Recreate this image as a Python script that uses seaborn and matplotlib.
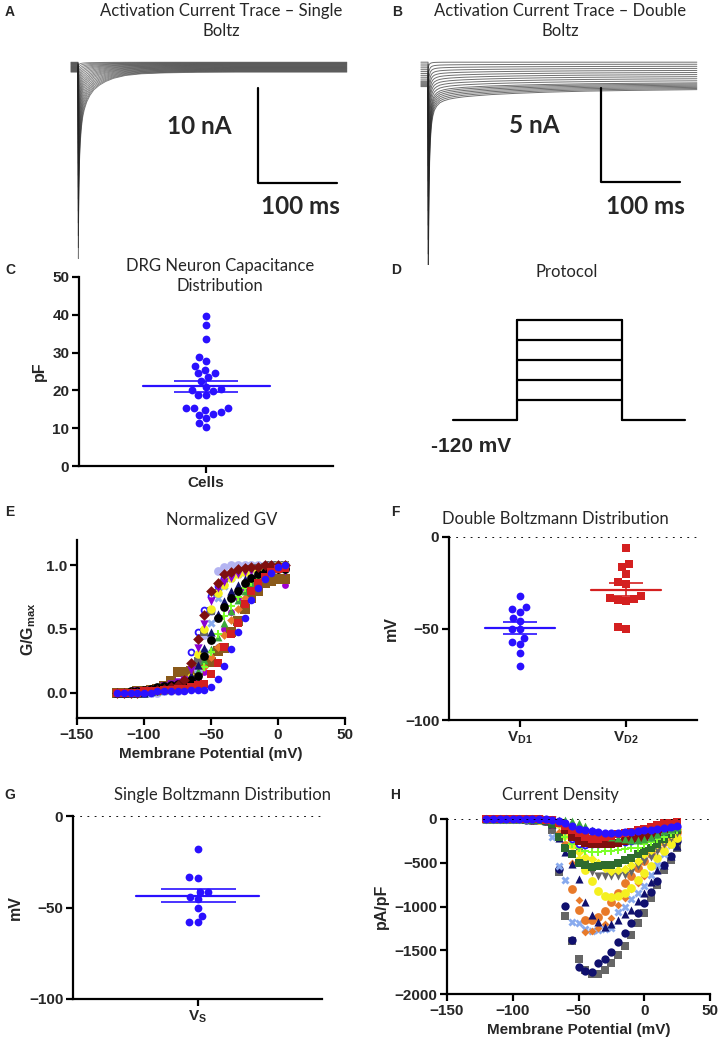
import numpy as np
import pandas as pd
import seaborn as sns
import matplotlib.pyplot as plt

# ---------------- data ----------------
# A / B: current traces (time in ms, current in nA)
trace_t = [-9, 0, 0.4, 0.8, 1.2, 2, 3, 4.5, 6, 8, 11, 15, 20, 27, 35, 45, 60, 80, 110, 150, 200, 260, 340]
fast_a = [0, 0, 1.0, 0.78, 0.62, 0.47, 0.37, 0.29, 0.24, 0.20, 0.16, 0.125, 0.095, 0.07, 0.05, 0.033, 0.018, 0.009, 0.004, 0.001, 0, 0, 0]
fast_b = [0, 0, 1.0, 0.7, 0.5, 0.32, 0.2, 0.12, 0.08, 0.05, 0.03, 0.015, 0.008, 0.003, 0.001, 0, 0, 0, 0, 0, 0, 0, 0]
slow_b = [0, 0, 0.3, 0.6, 0.85, 1.0, 1.0, 0.98, 0.96, 0.94, 0.91, 0.88, 0.84, 0.79, 0.74, 0.68, 0.61, 0.53, 0.45, 0.37, 0.30, 0.25, 0.20]

peak_a = [-0.4, -0.8, -1.3, -1.8, -2.4, -3.0, -3.7, -4.5, -5.3, -6.2, -7.1, -8.0, -9.0, -10.0, -11.2, -12.4, -13.6, -14.8, -16.0, -17.3, -18.5, -19.6]
base_a = [0.3, 0.25, 0.2, 0.15, 0.1, 0.05, 0.0, -0.05, -0.1, -0.15, -0.2, -0.25, -0.3, -0.35, -0.4, -0.45, -0.5, -0.55, -0.6, -0.65, -0.7, -0.75]

peak_b = [-0.3, -0.7, -1.1, -1.6, -2.1, -2.7, -3.3, -3.9, -4.6, -5.3, -6.0, -6.7, -7.4, -8.1, -8.8, -9.5, -10.2]
slow_amp_b = [0.0, -0.05, -0.1, -0.15, -0.2, -0.25, -0.3, -0.35, -0.4, -0.45, -0.5, -0.55, -0.6, -0.65, -0.7, -0.75, -0.8]
base_b = [0.15, 0.05, -0.05, -0.15, -0.25, -0.35, -0.45, -0.55, -0.65, -0.75, -0.85, -0.9, -0.95, -1.0, -1.05, -1.1, -1.15]

# C: capacitance (pF)
cap_pf = [39.6, 37.4, 33.7, 28.8, 27.9, 24.5, 24.7, 26.4, 25.4, 23.5, 22.6, 19.9, 20.2, 20.5,
          21.0, 18.8, 18.8, 14.3, 15.3, 15.3, 15.3, 14.8, 13.8, 13.6, 12.6, 11.4, 10.4]

# D: protocol (mV)
hold_mv = -120
step_mv = [-100, -80, -60, -40, -20]
protocol_t = [0, 64, 169, 232]

# E: normalized GV
v_gv = [-120, -115, -110, -105, -100, -95, -90, -85, -80, -75, -70, -65, -60,
        -55, -50, -45, -40, -35, -30, -25, -20, -15, -10, -5, 0, 5]
gv_violet = [0.00, 0.00, 0.00, 0.00, 0.00, 0.01, 0.01, 0.02, 0.03, 0.04, 0.05, 0.07, 0.10, 0.16, 0.24, 0.36, 0.50, 0.63, 0.74, 0.82, 0.88, 0.92, 0.94, 0.93, 0.90, 0.85]
gv_brown = [0.00, 0.00, 0.00, 0.01, 0.01, 0.02, 0.03, 0.05, 0.09, 0.16, 0.16, 0.17, 0.18, 0.25, 0.24, 0.33, 0.35, 0.48, 0.56, 0.66, 0.74, 0.80, 0.86, 0.88, 0.89, 0.89]
gv_lavender = [0.00, 0.00, 0.00, 0.00, 0.00, 0.00, 0.00, 0.01, 0.01, 0.01, 0.02, 0.05, 0.18, 0.45, 0.64, 0.96, 0.99, 1.00, 1.00, 1.00, 1.00, 1.00, 1.00, 1.00, 1.00, 1.00]
gv_grey = [0.00, 0.00, 0.00, 0.00, 0.00, 0.01, 0.01, 0.02, 0.03, 0.04, 0.06, 0.10, 0.25, 0.48, 0.64, 0.78, 0.86, 0.91, 0.94, 0.96, 0.97, 0.98, 0.99, 1.00, 1.00, 1.00]
gv_lightblue = [0.00, 0.00, 0.00, 0.00, 0.00, 0.00, 0.01, 0.01, 0.02, 0.03, 0.04, 0.07, 0.15, 0.32, 0.55, 0.74, 0.84, 0.90, 0.93, 0.95, 0.97, 0.98, 0.99, 1.00, 1.00, 1.00]
gv_orange = [0.00, 0.00, 0.00, 0.00, 0.00, 0.01, 0.01, 0.02, 0.03, 0.04, 0.06, 0.09, 0.13, 0.20, 0.28, 0.36, 0.45, 0.57, 0.66, 0.74, 0.82, 0.88, 0.92, 0.95, 0.97, 0.98]
gv_green = [0.00, 0.00, 0.00, 0.00, 0.00, 0.01, 0.01, 0.02, 0.03, 0.05, 0.08, 0.12, 0.17, 0.26, 0.34, 0.44, 0.55, 0.64, 0.73, 0.80, 0.86, 0.90, 0.93, 0.96, 0.98, 0.99]
gv_lime = [0.00, 0.00, 0.00, 0.00, 0.00, 0.00, 0.01, 0.01, 0.02, 0.03, 0.05, 0.08, 0.12, 0.20, 0.32, 0.46, 0.60, 0.68, 0.75, 0.82, 0.87, 0.90, 0.94, 0.96, 0.98, 0.99]
gv_yellow = [0.00, 0.00, 0.00, 0.00, 0.01, 0.01, 0.02, 0.03, 0.04, 0.05, 0.07, 0.12, 0.30, 0.50, 0.66, 0.78, 0.85, 0.90, 0.93, 0.95, 0.97, 0.98, 0.98, 0.99, 1.00, 1.00]
gv_navy = [0.00, 0.00, 0.00, 0.00, 0.00, 0.01, 0.02, 0.03, 0.05, 0.07, 0.09, 0.14, 0.22, 0.35, 0.48, 0.62, 0.72, 0.80, 0.85, 0.89, 0.92, 0.95, 0.97, 0.98, 0.99, 1.00]
gv_purple = [0.00, 0.00, 0.00, 0.01, 0.01, 0.02, 0.03, 0.05, 0.07, 0.08, 0.10, 0.18, 0.35, 0.54, 0.72, 0.82, 0.87, 0.90, 0.93, 0.95, 0.96, 0.97, 0.98, 0.98, 0.97, 0.96]
gv_black = [0.00, 0.00, 0.01, 0.01, 0.02, 0.03, 0.04, 0.05, 0.06, 0.07, 0.08, 0.10, 0.13, 0.29, 0.41, 0.59, 0.67, 0.74, 0.80, 0.86, 0.90, 0.93, 0.95, 0.96, 0.97, 0.97]
gv_openblue = [0.00, 0.00, 0.00, 0.00, 0.00, 0.01, 0.01, 0.02, 0.03, 0.05, 0.10, 0.32, 0.48, 0.65, 0.76, 0.84, 0.90, 0.93, 0.95, 0.97, 0.98, 0.99, 0.99, 1.00, 1.00, 1.00]
gv_darkred = [0.00, 0.00, 0.00, 0.00, 0.01, 0.01, 0.02, 0.03, 0.04, 0.06, 0.10, 0.23, 0.42, 0.61, 0.80, 0.86, 0.93, 0.95, 0.97, 0.98, 0.99, 0.99, 1.00, 1.00, 1.00, 1.00]
gv_red = [0.00, 0.00, 0.00, 0.00, 0.01, 0.01, 0.01, 0.02, 0.02, 0.03, 0.03, 0.04, 0.06, 0.07, 0.15, 0.23, 0.36, 0.46, 0.55, 0.70, 0.80, 0.86, 0.91, 0.95, 0.97, 0.98]
gv_blue = [0.00, 0.00, 0.00, 0.00, 0.00, 0.00, 0.01, 0.01, 0.01, 0.01, 0.01, 0.02, 0.02, 0.02, 0.04, 0.11, 0.21, 0.34, 0.48, 0.59, 0.73, 0.82, 0.89, 0.94, 0.99, 1.00]

# F / G: Boltzmann V1/2 (mV)
v_d1 = [-32.4, -41.1, -39.5, -38.4, -46.0, -44.0, -50.0, -50.4, -55.1, -57.5, -58.7, -63.3, -70.4]
v_d2 = [-6.2, -14.5, -16.5, -20.2, -24.4, -25.5, -32.4, -34.5, -33.8, -35.1, -33.1, -50.5, -49.3]
v_s = [-18.0, -33.5, -33.8, -41.3, -41.5, -45.6, -44.2, -50.4, -54.5, -58.0, -58.0]

# H: current density (pA/pF)
v_iv = [-120, -115, -110, -105, -100, -95, -90, -85, -80, -75, -70, -65, -60, -55, -50,
        -45, -40, -35, -30, -25, -20, -15, -10, -5, 0, 5, 10, 15, 20, 25]
iv_grey = [0, 0, -1, -2, -3, -4, -6, -9, -14, -22, -120, -600, -1107, -1393, -1603, -1725, -1775, -1775, -1725, -1649, -1553, -1447, -1324, -1191, -1069, -905, -752, -580, -466, -332]
iv_navy = [0, 0, -1, -2, -3, -4, -6, -9, -13, -20, -35, -570, -992, -1380, -1687, -1740, -1750, -1640, -1600, -1515, -1400, -1305, -1183, -1069, -962, -836, -714, -523, -427, -256]
iv_lightblue = [0, 0, 0, -1, -2, -3, -5, -8, -12, -20, -200, -540, -693, -1177, -1183, -1256, -1280, -1270, -1260, -1250, -1065, -1000, -915, -840, -760, -640, -530, -400, -300, -200]
iv_orange_dia = [0, 0, 0, -1, -1, -2, -4, -6, -10, -18, -40, -150, -300, -500, -920, -1290, -1280, -1240, -1200, -1130, -980, -900, -800, -730, -650, -540, -440, -340, -260, -200]
iv_orange = [0, 0, -1, -1, -2, -3, -5, -8, -12, -20, -60, -200, -294, -800, -1038, -1153, -1150, -1115, -1057, -943, -847, -733, -650, -560, -480, -400, -330, -260, -200, -150]
iv_navy_tri = [0, 0, 0, -1, -2, -3, -5, -8, -12, -25, -60, -220, -374, -510, -690, -950, -1100, -1180, -1230, -1200, -1150, -1090, -1040, -940, -840, -720, -580, -520, -420, -310]
iv_yellow = [0, 0, 0, -1, -1, -2, -3, -5, -8, -12, -20, -60, -180, -300, -470, -584, -706, -828, -885, -897, -885, -847, -790, -695, -618, -540, -450, -360, -290, -220]
iv_grey_tri = [0, 0, 0, 0, -1, -1, -2, -3, -5, -8, -15, -40, -90, -200, -380, -500, -600, -656, -650, -655, -650, -635, -600, -540, -485, -430, -360, -290, -220, -160]
iv_yellow_dia = [0, 0, 0, 0, -1, -1, -2, -3, -5, -8, -15, -40, -100, -250, -380, -430, -460, -500, -560, -590, -580, -573, -525, -477, -400, -350, -290, -230, -170, -110]
iv_darkgreen = [0, 0, 0, -1, -2, -3, -5, -8, -12, -20, -60, -200, -330, -400, -500, -530, -545, -540, -530, -520, -500, -470, -440, -400, -360, -330, -290, -230, -170, -120]
iv_lime = [0, 0, 0, 0, -1, -1, -2, -3, -5, -8, -15, -40, -200, -290, -337, -360, -375, -375, -370, -365, -355, -345, -335, -330, -290, -260, -230, -200, -160, -120]
iv_openblue = [0, 0, 0, 0, -1, -1, -2, -3, -5, -8, -15, -40, -120, -230, -290, -300, -290, -280, -275, -270, -265, -260, -250, -240, -220, -200, -170, -140, -110, -90]
iv_darkred = [0, 0, 0, 0, -1, -1, -2, -3, -5, -8, -15, -40, -120, -200, -250, -270, -285, -290, -285, -280, -270, -255, -240, -220, -200, -180, -150, -110, -80, -50]
iv_green = [0, 0, 0, 0, 0, -1, -1, -2, -3, -5, -8, -10, -15, -20, -40, -80, -120, -150, -180, -200, -220, -230, -240, -240, -230, -200, -170, -140, -110, -90]
iv_red = [0, 0, 0, 0, -1, -1, -2, -3, -5, -8, -15, -40, -80, -130, -160, -210, -230, -230, -210, -190, -170, -160, -150, -130, -110, -90, -70, -50, -40, -35]
iv_blue = [0, 0, 0, 0, 0, -1, -1, -2, -3, -5, -8, -20, -50, -80, -110, -120, -140, -150, -155, -155, -155, -150, -145, -140, -130, -120, -110, -100, -90, -80]

# ---------------- styles ----------------
BLUE = '#2a10ff'
RED = '#d42020'
OPEN = 'open'
gv_style = [
    (gv_openblue, BLUE, OPEN, 18),
    (gv_violet, '#a000d0', 'o', 24), (gv_brown, '#8a5a1a', 's', 44),
    (gv_lavender, '#b4b4f2', 'o', 40), (gv_grey, '#666666', 's', 38),
    (gv_lightblue, '#88aaee', 'X', 36), (gv_orange, '#e87a2a', 'D', 20),
    (gv_green, '#3aa83a', '^', 32), (gv_lime, '#7dff2a', 'P', 32),
    (gv_yellow, '#f5f020', 'o', 38), (gv_navy, '#10106e', '^', 36),
    (gv_purple, '#8a00d4', 'v', 36), (gv_black, '#000000', 'o', 40),
    (gv_darkred, '#7f0f0f', 'D', 30), (gv_red, RED, 's', 36), (gv_blue, BLUE, 'o', 30),
]
iv_style = [
    (iv_grey, '#666666', 's', 34), (iv_navy, '#10106e', 'o', 36),
    (iv_lightblue, '#88aaee', 'X', 34), (iv_orange_dia, '#e87a2a', 'D', 16),
    (iv_orange, '#e87a2a', 'o', 40), (iv_navy_tri, '#10106e', '^', 34),
    (iv_yellow, '#f5f020', 'o', 40), (iv_grey_tri, '#666666', 'v', 34),
    (iv_yellow_dia, '#f5f020', 'D', 24), (iv_darkgreen, '#2e6b2e', 's', 34),
    (iv_lime, '#7dff2a', 'P', 34), (iv_openblue, BLUE, OPEN, 18),
    (iv_darkred, '#7f0f0f', 's', 34), (iv_green, '#3aa83a', '^', 32),
    (iv_red, RED, 's', 34), (iv_blue, BLUE, 'o', 34),
]

W, H = 723, 1041


def px_rect(x0, y0, x1, y1):
    return [x0 / W, 1 - y1 / H, (x1 - x0) / W, (y1 - y0) / H]


def fig_text(x, y, s, **kw):
    fig.text(x / W, 1 - y / H, s, **kw)


sns.set_style('ticks')
plt.rcParams['font.family'] = ['Liberation Sans', 'DejaVu Sans']
plt.rcParams.update({
    'font.weight': 'bold', 'axes.labelweight': 'bold',
    'mathtext.fontset': 'custom', 'mathtext.rm': 'Liberation Sans',
    'mathtext.bf': 'Liberation Sans:bold', 'mathtext.it': 'Liberation Sans:italic',
})

TITLE = dict(family=['Lato', 'DejaVu Sans'], fontweight='normal', fontsize=12, ha='center', va='center')
SCALE = dict(family=['Lato', 'DejaVu Sans'], fontweight='bold', fontsize=17.5, ha='center', va='center')


def prism(ax):
    sns.despine(ax=ax)
    for s in ['left', 'bottom']:
        ax.spines[s].set_linewidth(1.6)
        ax.spines[s].set_color('black')
    ax.tick_params(width=1.6, length=5, labelsize=11, pad=2, color='black')
    ax.xaxis.label.set_size(11)
    ax.yaxis.label.set_size(11.5)


def scatter_series(ax, x, style, clip=True):
    for vals, c, mk, sz in style:
        if mk == OPEN:
            sns.scatterplot(x=x, y=vals, color='white', edgecolor=c, marker='o', s=sz,
                            linewidth=1.3, ax=ax, legend=False, clip_on=clip)
        else:
            sns.scatterplot(x=x, y=vals, color=c, marker=mk, s=sz, linewidth=0,
                            ax=ax, legend=False, clip_on=clip)


fig = plt.figure(figsize=(W / 100, H / 100), dpi=100)

# ---- A ----
ax = fig.add_axes(px_rect(60, 40, 350, 262))
fa, tt = np.array(fast_a), np.array(trace_t)
for p, b in zip(peak_a, base_a):
    ax.plot(tt, b + p * fa, color='#222222', lw=0.6, alpha=0.6)
ax.plot([228, 228, 328], [-2.4, -12.4, -12.4], color='black', lw=1.6)
ax.text(154, -6.5, '10 nA', **SCALE)
ax.text(281, -14.9, '100 ms', **SCALE)
ax.set_xlim(-22.8, 344)
ax.set_ylim(-20.7, 2.63)
ax.axis('off')

# ---- B ----
ax = fig.add_axes(px_rect(410, 40, 700, 265))
fb, sb = np.array(fast_b), np.array(slow_b)
for p, s, b in zip(peak_b, slow_amp_b, base_b):
    ax.plot(tt, b + p * fb + s * sb, color='#222222', lw=0.7, alpha=0.65)
ax.plot([219, 219, 319], [-1.22, -6.22, -6.22], color='black', lw=1.6)
ax.text(135, -3.2, '5 nA', **SCALE)
ax.text(275, -7.55, '100 ms', **SCALE)
ax.set_xlim(-22.8, 344)
ax.set_ylim(-10.64, 1.33)
ax.axis('off')

# ---- C ----
ax = fig.add_axes(px_rect(79, 277, 333, 466))
sns.swarmplot(y=cap_pf, color=BLUE, size=5.6, ax=ax, linewidth=0)
m = np.mean(cap_pf)
sem = np.std(cap_pf, ddof=1) / np.sqrt(len(cap_pf))
ax.plot([-0.5, 0.5], [m, m], color=BLUE, lw=1.6)
ax.errorbar(0, m, yerr=sem, color=BLUE, lw=1.2, capsize=23, capthick=1.2)
ax.set_xlim(-1, 1)
ax.set_ylim(0, 50)
ax.set_xticks([0], labels=['Cells'], fontsize=11)
ax.set_yticks([0, 10, 20, 30, 40, 50])
ax.set_ylabel('pF')
prism(ax)

# ---- D ----
ax = fig.add_axes(px_rect(440, 300, 700, 460))
t0, t1, t2, t3 = protocol_t
ax.plot([t0, t1], [hold_mv, hold_mv], color='black', lw=1.6)
ax.plot([t2, t3], [hold_mv, hold_mv], color='black', lw=1.6)
ax.plot([t1, t1], [hold_mv, max(step_mv)], color='black', lw=1.6)
ax.plot([t2, t2], [hold_mv, max(step_mv)], color='black', lw=1.6)
for v in step_mv:
    ax.plot([t1, t2], [v, v], color='black', lw=1.6)
ax.text(18, -147, f'{hold_mv} mV', ha='center', va='center', fontsize=15, fontweight='bold')
ax.set_xlim(-13, 247)
ax.set_ylim(-160, 0)
ax.axis('off')

# ---- E ----
ax = fig.add_axes(px_rect(77, 540, 345, 718))
scatter_series(ax, v_gv, gv_style)
ax.set_xlim(-150, 50)
ax.set_ylim(-0.2, 1.2)
ax.set_xticks([-150, -100, -50, 0, 50])
ax.set_yticks([0, 0.5, 1.0], labels=['0.0', '0.5', '1.0'])
ax.set_xlabel('Membrane Potential (mV)')
ax.set_ylabel(r'$\mathbf{G/G_{max}}$', fontsize=12.5, labelpad=6)
prism(ax)

# ---- F ----
ax = fig.add_axes(px_rect(449, 537, 697, 720))
order = ['VD1', 'VD2']
sns.swarmplot(x=['VD1'] * len(v_d1), y=v_d1, order=order, color=BLUE, size=5.6, ax=ax, linewidth=0)
sns.swarmplot(x=['VD2'] * len(v_d2), y=v_d2, order=order, color=RED, marker='s', size=5.6, ax=ax, linewidth=0)
for i, (vals, c) in enumerate([(v_d1, BLUE), (v_d2, RED)]):
    m = np.mean(vals)
    sem = np.std(vals, ddof=1) / np.sqrt(len(vals))
    ax.plot([i - 0.33, i + 0.33], [m, m], color=c, lw=1.6)
    ax.errorbar(i, m, yerr=sem, color=c, lw=1.2, capsize=12, capthick=1.2)
ax.axhline(0, color='black', lw=1.3, ls=(0, (1, 3)))
ax.set_xlim(-0.67, 1.67)
ax.set_ylim(-100, 0)
ax.set_xticks([0, 1], labels=[r'$\mathbf{V_{D1}}$', r'$\mathbf{V_{D2}}$'], fontsize=12)
ax.set_yticks([-100, -50, 0])
ax.set_ylabel('mV')
prism(ax)

# ---- G ----
ax = fig.add_axes(px_rect(73, 816, 322, 999))
sns.swarmplot(y=v_s, color=BLUE, size=5.6, ax=ax, linewidth=0)
m = np.mean(v_s)
sem = np.std(v_s, ddof=1) / np.sqrt(len(v_s))
ax.plot([-0.49, 0.49], [m, m], color=BLUE, lw=1.6)
ax.errorbar(0, m, yerr=sem, color=BLUE, lw=1.2, capsize=27, capthick=1.2)
ax.axhline(0, color='black', lw=1.3, ls=(0, (1, 3)))
ax.set_xlim(-1, 1)
ax.set_ylim(-100, 0)
ax.set_xticks([0], labels=[r'$\mathbf{V}_\mathrm{S}$'], fontsize=12)
ax.set_yticks([-100, -50, 0])
ax.set_ylabel('mV')
prism(ax)

# ---- H ----
ax = fig.add_axes(px_rect(447, 819, 710, 994))
ax.axhline(0, color='black', lw=1.3, ls=(0, (1, 3)))
scatter_series(ax, v_iv, iv_style, clip=False)
ax.set_xlim(-150, 50)
ax.set_ylim(-2000, 0)
ax.set_xticks([-150, -100, -50, 0, 50])
ax.set_yticks([-2000, -1500, -1000, -500, 0])
ax.set_xlabel('Membrane Potential (mV)')
ax.set_ylabel('pA/pF')
prism(ax)

# ---- titles and panel letters ----
fig_text(221, 21, 'Activation Current Trace \u2013 Single\nBoltz', linespacing=1.35, **TITLE)
fig_text(560, 21, 'Activation Current Trace \u2013 Double\nBoltz', linespacing=1.35, **TITLE)
fig_text(220, 276, 'DRG Neuron Capacitance\nDistribution', linespacing=1.35, **TITLE)
fig_text(567, 272, 'Protocol', **TITLE)
fig_text(222, 520, 'Normalized GV', **TITLE)
fig_text(555, 519, 'Double Boltzmann Distribution', **TITLE)
fig_text(222, 795, 'Single Boltzmann Distribution', **TITLE)
fig_text(560, 795, 'Current Density', **TITLE)

for x, y, s in [(10, 12, 'A'), (397, 12, 'B'), (10, 270, 'C'), (396, 270, 'D'),
                (10, 512, 'E'), (395, 512, 'F'), (10, 795, 'G'), (395, 795, 'H')]:
    fig_text(x, y, s, fontsize=10, fontweight='bold', ha='center', va='center')

fig.savefig('out.png', dpi=100)
